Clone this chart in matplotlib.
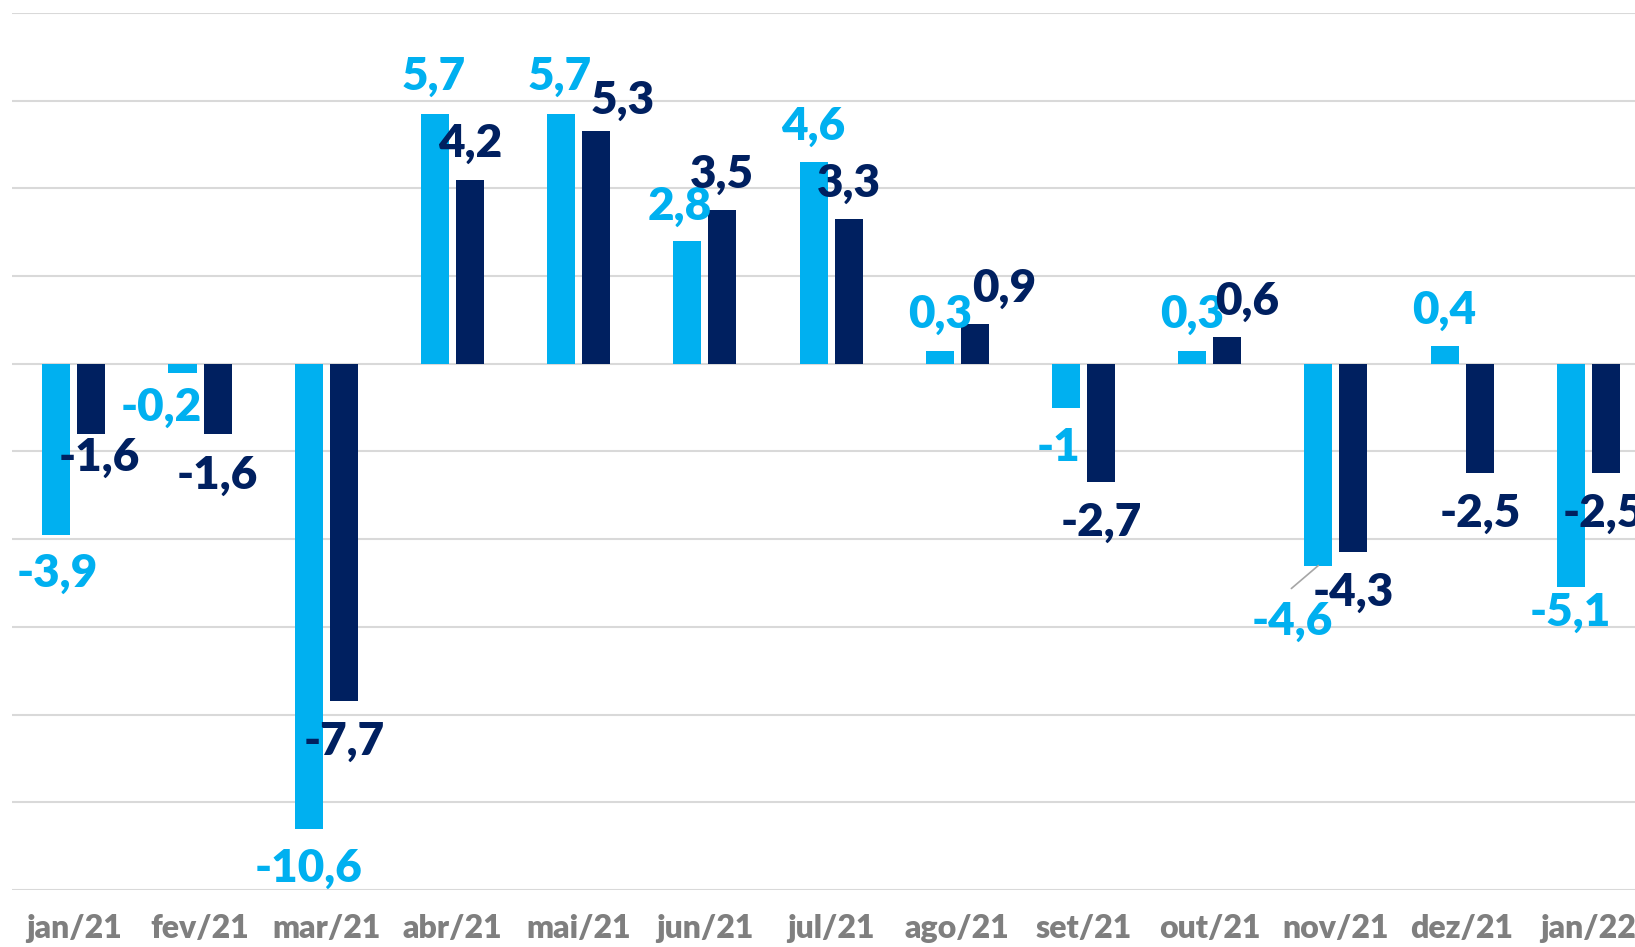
import matplotlib
matplotlib.use("Agg")
import matplotlib.pyplot as plt
import numpy as np

# Daten
months = ["jan/21", "fev/21", "mar/21", "abr/21", "mai/21", "jun/21", "jul/21",
          "ago/21", "set/21", "out/21", "nov/21", "dez/21", "jan/22"]
serie_a = [-3.9, -0.2, -10.6, 5.7, 5.7, 2.8, 4.6, 0.3, -1.0, 0.3, -4.6, 0.4, -5.1]
serie_b = [-1.6, -1.6, -7.7, 4.2, 5.3, 3.5, 3.3, 0.9, -2.7, 0.6, -4.3, -2.5, -2.5]

# Label-Versatz in Pixeln (dx, dy)
off_a = [(1, -39), (-21, -35), (0, -40), (-1, 37), (-1, 37), (-8, 35), (0, 36),
         (0, 36), (-7, -40), (0, 36), (-26, -56), (0, 36), (0, -25)]
off_b = [(8, -24), (0, -42), (0, -40), (0, 36), (26, 31), (0, 36), (0, 36),
         (29, 36), (0, -40), (20, 36), (0, -40), (1, -40), (-3, -40)]

col_a = "#00B0F0"
col_b = "#002060"


def fmt(v):
    # Komma statt Punkt, ganze Zahlen ohne Dezimalstelle
    if float(v).is_integer():
        return str(int(v))
    return f"{v:.1f}".replace(".", ",")


plt.rcParams["font.family"] = ["Lato", "DejaVu Sans"]

fig = plt.figure(figsize=(16.35, 9.47), dpi=100)
ax = fig.add_axes([12 / 1635, 1 - 890 / 947, 1 - 12 / 1635, (890 - 13) / 947])

x = np.arange(len(months))
w = 0.222
d = 0.139
ax.bar(x - d, serie_a, width=w, color=col_a, zorder=3)
ax.bar(x + d, serie_b, width=w, color=col_b, zorder=3)

for xs, vals, offs, c in [(x - d, serie_a, off_a, col_a), (x + d, serie_b, off_b, col_b)]:
    for xi, v, (dx, dy) in zip(xs, vals, offs):
        ax.annotate(fmt(v), xy=(xi, v), xytext=(dx, dy), textcoords="offset pixels",
                    ha="center", va="center", color=c, fontsize=33,
                    fontweight="heavy", zorder=5, annotation_clip=False)

# Hinweislinie bei nov/21
i = months.index("nov/21")
ax.annotate("", xy=(i - d, serie_a[i]), xytext=(-27, -23), textcoords="offset pixels",
            arrowprops=dict(arrowstyle="-", color="#a6a6a6", lw=1.2, shrinkA=0, shrinkB=0))

ax.set_ylim(-12, 8)
ax.set_xlim(-0.49, 12.37)
ax.set_yticks(np.arange(-12, 9, 2))
ax.set_yticklabels([])
ax.tick_params(axis="y", length=0)
ax.grid(axis="y", color="#d9d9d9", lw=1.5, zorder=0)
ax.set_xticks(x)
ax.set_xticklabels(months, fontsize=23, fontweight="heavy", color="#7f7f7f")
ax.tick_params(axis="x", length=0, pad=17)
for s in ax.spines.values():
    s.set_visible(False)

fig.savefig("out.png", dpi=100)
